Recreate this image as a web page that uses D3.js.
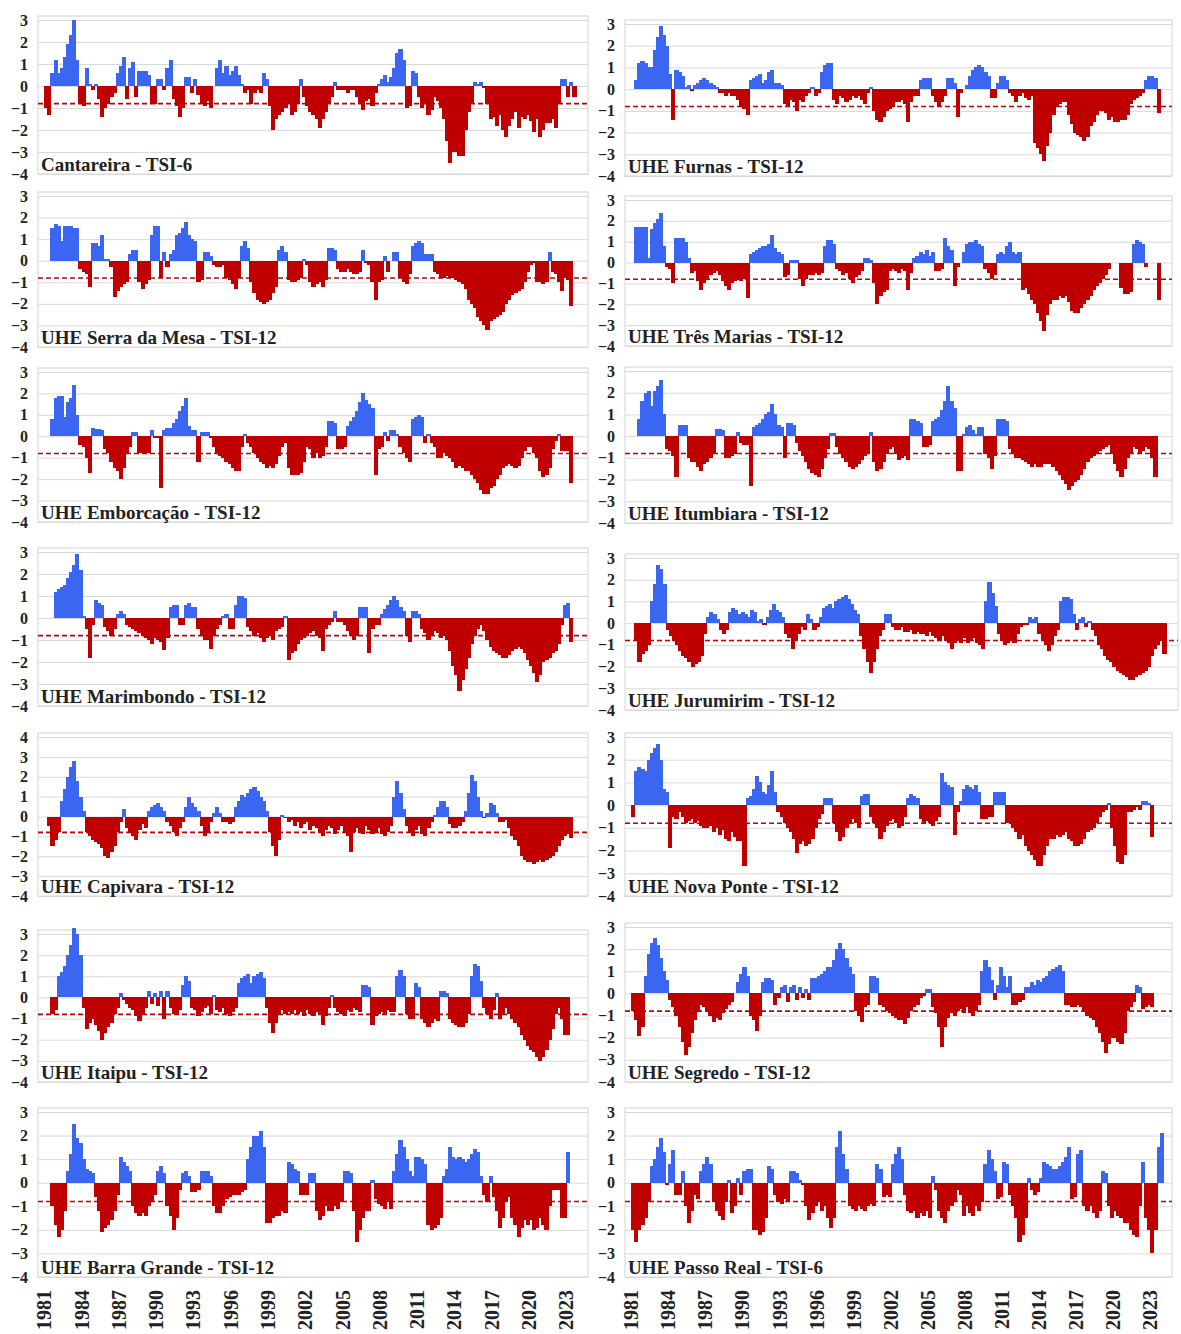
<!DOCTYPE html>
<html>
<head>
<meta charset="utf-8">
<script src="https://cdn.jsdelivr.net/npm/d3@7"></script>
<style>
body { margin: 0; background: #fff; }
</style>
</head>
<body>
<script>
// quarterly TSI values, first value = 1981 Q1 (null = no data)
var cantareira = [
 -1.0,-1.3,0.6,1.2, 0.6,0.8,1.3,1.9, 2.3,3.0,1.2,-0.8, -0.9,0.8,0.1,-0.2,
 0.1,-0.6,-1.4,-1.0, -0.8,-0.5,-0.3,0.6, 0.9,1.3,-0.6,0.8, 1.1,-0.5,0.7,0.7,
 0.7,0.5,-0.8,-0.8, 0.3,0.3,-0.2,0.8, 1.2,-0.6,-0.9,-1.4, -1.0,0.4,0.4,-0.3,
 0.3,-0.4,-0.8,-0.9, -0.7,-1.0,0.0,0.8, 1.2,0.6,0.9,0.5, 0.7,0.9,0.5,0.1,
 -0.3,-0.2,-0.8,-0.3, -0.2,-0.3,0.6,0.3, -0.9,-2.0,-1.5,-1.3, -1.2,-1.0,-0.8,-1.3,
 -1.2,-0.8,0.3,-0.5, -0.9,-1.2,-1.3,-1.5, -1.9,-1.5,-1.2,-0.8, -0.5,0.2,-0.2,-0.2,
 -0.2,-0.3,-0.2,-0.2, -0.5,-0.8,-1.1,-0.7, -0.6,-0.9,-0.3,0.1, 0.3,0.5,0.2,0.4,
 0.8,1.5,1.7,1.2, -1.0,-0.9,0.7,0.6, -0.5,-1.0,-0.8,-1.3, -1.1,-0.5,-0.7,-1.0,
 -1.5,-2.5,-3.5,-3.0, -3.0,-3.2,-3.2,-2.0, -1.2,-0.8,0.2,0.1, 0.2,-0.1,-0.8,-1.5,
 -1.4,-1.8,-1.3,-2.0, -2.3,-1.8,-1.5,-1.2, -1.9,-1.4,-1.5,-1.3, -1.6,-2.1,-1.5,-2.3,
 -2.0,-1.7,-1.7,-1.5, -1.9,-0.8,0.3,0.3, -0.5,0.2,-0.5,null
];
var furnas = [
 null,0.4,1.2,1.3, 1.2,1.0,1.0,1.8, 2.4,2.9,2.5,2.0, 0.7,-1.4,0.9,0.8,
 0.6,0.1,0.2,-0.1, 0.2,0.3,0.4,0.5, 0.4,0.3,0.2,0.1, -0.2,-0.2,-0.3,-0.2,
 -0.3,-0.3,-0.5,-0.8, -0.9,-1.2,0.4,0.5, 0.6,0.7,0.3,0.4, 0.8,0.9,0.3,0.3,
 0.2,-0.7,-0.8,-0.5, -0.6,-1.0,-0.5,-0.6, -0.3,-0.2,0.1,-0.3, -0.2,0.8,1.1,1.2,
 1.2,-0.5,-0.7,-0.3, -0.4,-0.6,-0.5,-0.3, -0.4,-0.3,-0.5,-0.7, -0.2,0.1,-1.0,-1.4,
 -1.5,-1.3,-1.0,-0.9, -0.8,-0.6,-0.6,-0.5, -0.7,-1.5,-0.6,-0.3, -0.3,0.4,0.5,0.5,
 0.5,-0.3,-0.6,-0.8, -0.6,-0.3,0.5,0.5, 0.3,-1.3,-0.2,0.0, 0.2,0.6,0.9,1.0,
 1.1,1.0,0.8,0.6, -0.4,-0.4,0.3,0.6, 0.6,0.4,-0.2,-0.3, -0.6,-0.3,-0.2,-0.4,
 -0.5,-0.3,-2.5,-2.7, -3.0,-3.3,-2.6,-2.0, -1.2,-0.8,-0.7,-0.6, -0.6,-1.2,-1.6,-2.0,
 -2.1,-2.2,-2.4,-2.2, -1.7,-1.5,-1.2,-1.0, -1.0,-1.1,-1.4,-1.3, -1.5,-1.5,-1.4,-1.4,
 -1.2,-0.7,-0.5,-0.4, -0.3,-0.2,0.4,0.6, 0.6,0.5,-1.1,null
];
var serraDaMesa = [
 null,null,1.5,1.7, 1.6,0.9,1.6,1.6, 1.6,1.5,1.5,-0.4, -0.5,-0.6,-1.2,0.8,
 0.8,0.7,1.2,0.1, 0.1,-0.3,-1.7,-1.4, -1.2,-1.1,-1.0,0.3, 0.5,0.5,-1.0,-1.3,
 -1.1,-0.9,1.2,1.6, 1.6,-0.8,0.4,-0.3, 0.3,0.5,1.2,1.3, 1.5,1.8,1.2,1.0,
 0.9,-1.0,-0.9,0.4, 0.4,0.2,-0.2,-0.3, -0.3,-0.2,-0.8,-0.9, -1.1,-1.3,-0.8,0.7,
 0.9,0.6,-1.0,-1.5, -1.8,-1.9,-2.0,-1.9, -1.8,-1.5,-1.2,0.5, 0.7,0.4,-0.9,-1.0,
 -1.0,-0.9,-0.8,0.1, -0.2,-1.0,-1.2,-1.1, -1.0,-1.2,-0.9,0.6, 0.6,0.5,-0.4,-0.5,
 -0.5,-0.4,-0.5,-0.6, -0.6,-0.5,0.5,-0.1, -0.2,-1.0,-1.8,-1.0, -0.9,0.2,-0.5,0.0,
 0.4,0.4,-0.8,-1.0, -1.1,-0.6,0.7,0.8, 0.9,0.8,0.3,0.3, 0.3,-0.5,-0.6,-0.8,
 -0.8,-0.7,-0.8,-0.8, -0.9,-1.0,-1.1,-1.3, -1.8,-2.0,-2.2,-2.6, -2.8,-3.0,-3.2,-2.8,
 -2.7,-2.6,-2.5,-2.4, -2.0,-1.8,-1.6,-1.5, -1.4,-1.3,-1.0,-0.5, -0.2,-0.1,-1.0,-1.0,
 -1.1,-1.0,0.4,-0.5, -0.6,-1.0,-1.4,-0.8, -0.9,-2.1,null,null
];
var tresMarias = [
 null,1.7,1.7,1.7, 1.7,0.2,1.6,1.9, 2.1,2.4,0.8,-0.2, -0.3,-1.0,1.2,1.2,
 1.2,1.0,0.2,-0.5, -0.4,-0.9,-1.3,-1.0, -0.8,-0.6,-0.5,-0.4, -0.6,-0.9,-1.1,-1.3,
 -1.0,-0.9,-0.8,-0.9, -0.8,-1.7,0.4,0.5, 0.6,0.7,0.8,0.8, 0.9,1.3,0.7,0.5,
 0.4,-0.7,-0.6,0.1, 0.1,0.1,-0.8,-1.1, -0.8,-0.6,-0.6,-0.5, -0.6,-0.5,0.8,1.1,
 1.1,0.9,-0.3,-0.4, -0.6,-0.5,-0.8,-1.0, -0.7,-0.6,-0.4,0.2, 0.2,0.1,-1.0,-2.0,
 -1.6,-1.4,-1.3,-0.4, -0.3,-0.4,-0.5,-0.3, -0.4,-1.3,-0.5,0.2, 0.3,0.5,0.4,0.6,
 0.3,0.5,-0.4,-0.4, -0.3,1.2,0.8,0.6, -1.1,-0.2,0.0,0.5, 0.9,1.0,1.0,1.1,
 0.9,0.8,-0.3,-0.5, -0.8,-0.6,0.4,0.5, 0.4,0.8,1.0,0.5, 0.4,0.5,-1.3,-1.2,
 -1.5,-1.8,-2.0,-2.4, -2.8,-3.3,-2.5,-2.0, -1.8,-1.8,-1.6,-1.7, -1.6,-1.9,-2.3,-2.4,
 -2.4,-2.2,-2.0,-1.8, -1.6,-1.3,-1.1,-1.0, -0.8,-0.6,-0.3,0.0, 0.0,0.0,-1.2,-1.5,
 -1.5,-1.4,0.9,1.1, 1.0,0.9,-0.2,0.0, 0.0,0.0,-1.8,null
];
var emborcacao = [
 null,null,0.8,1.8, 1.9,1.9,0.9,1.6, 1.8,2.4,1.0,-0.4, -0.5,-1.0,-1.7,0.4,
 0.35,0.35,0.3,-0.6, -0.8,-1.2,-1.5,-1.6, -2.0,-1.5,-0.8,-0.5, 0.2,0.2,-0.8,-0.8,
 -0.8,-0.8,0.3,-0.1, -0.1,-2.4,0.3,0.4, 0.4,0.6,0.8,1.2, 1.4,1.8,0.5,0.3,
 0.3,-1.2,0.2,0.2, 0.2,-0.1,-0.5,-0.8, -0.9,-1.0,-1.2,-1.3, -1.5,-1.6,-1.6,-0.5,
 0.1,-0.3,-0.5,-0.8, -1.0,-1.2,-1.3,-1.5, -1.4,-1.5,-1.3,-0.9, -0.5,-0.3,-1.5,-1.8,
 -1.8,-1.8,-1.7,-1.2, -0.5,-0.6,-1.0,-0.8, -1.0,-0.9,-0.5,0.7, 0.7,0.6,-0.6,-0.6,
 -0.5,0.5,0.7,0.9, 1.2,1.6,2.0,1.7, 1.5,1.3,-1.8,-0.6, -0.5,0.2,-0.2,0.3,
 0.3,0.1,-0.5,-0.8, -1.0,-1.2,0.8,0.9, 1.0,0.9,-0.3,0.1, -0.3,-0.5,-1.0,-1.0,
 -0.8,-0.9,-1.0,-1.2, -1.5,-1.4,-1.5,-1.6, -1.6,-1.8,-2.0,-2.2, -2.5,-2.7,-2.7,-2.4,
 -2.3,-2.0,-1.8,-1.5, -1.4,-1.3,-1.4,-1.5, -1.4,-1.0,-0.7,-0.5, -0.5,-0.8,-1.0,-1.6,
 -1.9,-1.8,-1.5,-0.6, -0.2,0.1,-0.7,-0.7, -0.7,-2.2,null,null
];
var itumbiara = [
 null,null,0.8,1.6, 2.0,2.1,1.4,2.1, 2.3,2.6,1.0,-0.6, -0.7,-0.9,-1.9,0.5,
 0.5,0.5,-1.0,-1.2, -1.2,-1.4,-1.6,-1.3, -1.2,-1.0,-0.8,0.35, 0.35,0.3,-1.0,-1.0,
 -0.9,-0.8,0.2,-0.3, -0.4,-0.4,-2.3,0.4, 0.5,0.6,0.8,1.0, 1.1,1.5,1.0,0.5,
 0.4,-1.0,0.6,0.6, 0.5,-0.3,-0.7,-0.9, -1.2,-1.5,-1.7,-1.8, -1.9,-1.5,-1.0,-0.6,
 0.15,0.15,-0.5,-0.8, -1.0,-1.2,-1.4,-1.5, -1.4,-1.3,-1.1,-0.9, -0.8,0.2,-1.2,-1.6,
 -1.5,-1.2,-0.8,-0.6, -0.5,-0.8,-1.1,-1.0, -0.9,-1.1,0.8,0.8, 0.7,0.6,-0.5,-0.5,
 -0.4,0.7,0.8,0.9, 1.2,1.6,2.3,1.6, 1.3,-1.6,-1.6,0.1, 0.4,0.5,0.3,0.1,
 0.4,0.4,-0.8,-1.0, -1.5,-0.9,0.8,0.8, 0.8,0.7,-0.6,-0.8, -1.0,-1.0,-1.1,-1.2,
 -1.3,-1.4,-1.3,-1.4, -1.4,-1.3,-1.3,-1.3, -1.4,-1.6,-1.8,-2.0, -2.2,-2.5,-2.3,-2.1,
 -2.0,-1.8,-1.5,-1.2, -1.0,-0.9,-0.8,-0.7, -0.6,-0.5,-0.4,-0.8, -1.3,-1.6,-1.9,-1.5,
 -1.0,-0.8,-0.5,-0.6, -0.8,-0.7,-0.5,-0.6, -1.0,-1.9,null,null
];
var marimbondo = [
 null,null,null,1.2, 1.3,1.4,1.5,1.8, 2.1,2.4,2.9,2.2, 0.1,-0.5,-1.8,-0.3,
 0.8,0.7,0.6,-0.4, -0.6,-0.8,-0.5,0.2, 0.3,0.2,-0.3,-0.4, -0.5,-0.6,-0.7,-0.8,
 -0.9,-1.0,-1.2,-0.9, -1.0,-1.1,-1.45,-0.9, 0.5,0.6,0.6,-0.3, -0.3,0.6,0.7,0.5,
 0.5,-0.5,-0.8,-1.0, -1.0,-1.4,-0.8,-0.5, -0.3,0.1,0.2,-0.5, -0.5,0.6,1.0,1.0,
 0.9,-0.4,-0.6,-0.8, -0.7,-0.9,-1.1,-0.9, -0.8,-1.0,-0.6,-0.5, -0.4,0.1,-1.9,-1.6,
 -1.5,-1.2,-1.0,-0.9, -0.8,-0.7,-0.6,-0.8, -0.9,-1.5,-0.5,-0.3, -0.2,0.3,-0.2,-0.2,
 -0.3,-0.6,-0.8,-1.0, -0.8,0.5,0.5,0.5, -1.6,-0.5,-0.3,-0.3, 0.2,0.4,0.6,0.8,
 1.0,0.8,0.5,0.3, -0.8,-1.1,0.3,0.3, 0.2,-0.5,-0.7,-1.0, -0.8,-0.6,-0.7,-0.9,
 -0.8,-1.0,-1.5,-2.2, -2.6,-3.3,-2.8,-2.3, -1.8,-1.2,-0.8,-0.5, -0.3,-0.6,-1.0,-1.3,
 -1.5,-1.6,-1.7,-1.8, -1.8,-1.7,-1.5,-1.4, -1.3,-1.4,-1.6,-1.9, -2.2,-2.5,-2.9,-2.6,
 -2.0,-1.9,-1.8,-1.6, -1.5,-1.2,-0.3,0.6, 0.7,-1.1,null,null
];
var jurumirim = [
 null,-0.8,-1.8,-1.4, -1.3,-1.0,1.0,1.8, 2.7,2.5,1.8,-0.3, -0.6,-0.8,-1.0,-1.3,
 -1.5,-1.6,-1.8,-2.0, -1.9,-1.8,-1.5,-0.5, 0.3,0.5,0.4,0.2, -0.3,-0.5,-0.3,0.5,
 0.7,0.6,0.4,0.5, 0.4,0.3,0.6,0.5, 0.1,0.2,-0.1,0.3, 0.6,0.9,0.6,0.5,
 0.3,-0.5,-0.7,-1.2, -0.8,-0.5,-0.2,-0.3, 0.4,0.2,-0.3,-0.2, 0.3,0.7,0.8,0.9,
 0.7,1.0,1.1,1.2, 1.3,1.1,0.9,0.6, 0.4,-0.6,-1.2,-1.8, -2.3,-1.8,-1.2,-0.6,
 -0.3,0.4,0.4,-0.2, -0.3,-0.3,-0.2,-0.4, -0.4,-0.3,-0.5,-0.4, -0.5,-0.5,-0.6,-0.4,
 -0.6,-0.7,-0.8,-0.6, -0.8,-0.9,-1.2,-0.9, -0.8,-0.9,-0.7,-0.9, -0.8,-0.7,-0.9,-1.0,
 -1.2,1.0,1.9,1.4, 0.8,-0.5,-0.8,-1.0, -0.9,-0.8,-0.9,-0.5, -0.2,-0.1,-0.1,0.3,
 0.2,0.3,-0.5,-0.8, -1.0,-1.3,-1.0,-0.6, -0.3,1.0,1.2,1.2, 1.1,0.4,-0.3,0.2,
 0.3,-0.2,0.1,-0.3, -0.6,-1.0,-1.2,-1.5, -1.7,-1.8,-2.0,-2.2, -2.3,-2.4,-2.5,-2.6,
 -2.6,-2.5,-2.4,-2.3, -2.2,-2.0,-1.5,-1.2, -1.0,-0.8,-1.4,null
];
var capivara = [
 null,-0.5,-1.5,-1.2, -0.8,0.8,1.4,2.0, 2.5,2.8,1.8,1.0, 0.3,-0.8,-1.0,-1.2,
 -1.3,-1.4,-1.6,-2.0, -2.1,-1.8,-1.5,-0.8, -0.3,0.4,-0.6,-0.8, -1.0,-1.2,-0.7,-0.4,
 -0.6,0.3,0.5,0.6, 0.7,0.5,0.3,-0.3, -0.5,-0.8,-1.0,-0.6, -0.3,0.5,1.0,0.7,
 0.5,0.3,-0.5,-1.0, -0.8,-0.3,0.2,0.5, 0.2,-0.3,-0.3,-0.4, -0.3,0.5,0.8,1.1,
 1.0,1.2,1.4,1.5, 1.3,1.0,0.8,0.3, -0.8,-1.5,-2.0,-1.2, 0.1,-0.1,-0.3,-0.2,
 -0.5,-0.3,-0.6,-0.4, -0.3,-0.7,-0.5,-0.6, -0.8,-1.0,-0.7,-0.5, -0.6,-0.9,-0.7,-0.5,
 -0.8,-1.0,-1.8,-0.8, -0.6,-0.8,-0.9,-0.5, -0.7,-0.9,-0.8,-0.6, -0.9,-1.0,-0.8,-0.5,
 1.0,1.8,1.2,0.4, -0.5,-0.8,-1.0,-0.7, -0.5,-0.9,-1.0,-0.6, -0.3,0.1,0.5,0.8,
 0.8,0.5,-0.4,-0.6, -0.6,-0.5,-0.3,0.3, 1.2,2.1,1.8,1.0, 0.3,-0.1,0.2,0.7,
 0.6,0.2,-0.3,-0.3, -0.2,-0.6,-1.0,-1.2, -1.5,-2.0,-2.2,-2.3, -2.3,-2.4,-2.3,-2.2,
 -2.3,-2.2,-2.1,-2.0, -1.8,-1.5,-1.2,-1.0, -0.9,-1.1,null,null
];
var novaPonte = [
 -0.5,1.5,1.7,1.6, 1.5,2.0,2.3,2.5, 2.7,2.0,0.7,0.6, -1.9,-0.5,-0.6,-0.3,
 -0.5,-0.8,-0.7,-0.6, -0.8,-0.7,-0.9,-1.0, -1.0,-0.9,-1.2,-1.0, -1.3,-1.1,-1.5,-1.6,
 -1.2,-1.4,-1.6,-1.6, -2.7,0.3,0.4,0.7, 1.3,1.0,0.6,0.5, 0.9,1.5,0.6,-0.3,
 -0.5,-0.8,-1.0,-1.2, -1.5,-2.1,-1.7,-1.6, -1.8,-1.7,-1.5,-1.0, -0.6,-0.4,0.3,0.3,
 0.3,-0.8,-1.2,-1.6, -1.4,-1.0,-0.8,-0.6, -0.8,-1.0,0.4,0.5, 0.5,-0.5,-0.8,-1.0,
 -1.5,-1.2,-0.9,-0.7, -0.6,-0.8,-1.0,-0.9, -0.5,0.3,0.5,0.4, 0.3,-0.6,-0.8,-0.7,
 -0.8,-0.9,-0.7,-0.5, 1.4,1.0,0.9,0.8, -1.3,-0.3,0.2,0.7, 0.9,0.8,0.7,0.9,
 0.6,-0.6,-0.6,-0.5, -0.5,0.6,0.6,0.6, 0.6,-0.8,-0.8,-1.0, -1.2,-1.5,-1.3,-1.8,
 -2.0,-2.2,-2.4,-2.7, -2.7,-2.2,-1.8,-1.5, -1.5,-1.3,-1.4,-1.3, -1.2,-1.5,-1.6,-1.8,
 -1.8,-1.7,-1.5,-1.2, -1.1,-1.0,-0.8,-0.5, -0.3,-0.2,0.1,-1.0, -1.8,-2.5,-2.6,-2.2,
 -0.3,-0.3,-0.2,-0.1, -0.2,0.2,0.2,0.1, -1.4,null,null,null
];
var itaipu = [
 null,null,-0.8,-0.6, 1.0,1.2,1.5,2.0, 2.5,3.3,3.0,2.0, -0.5,-1.5,-1.2,-1.0,
 -1.3,-1.6,-2.0,-1.7, -1.4,-1.2,-0.8,-0.5, 0.2,-0.1,-0.3,-0.5, -0.6,-0.9,-1.1,-0.8,
 -0.5,0.3,-0.3,0.2, -0.4,0.3,-1.0,0.3, -0.5,-0.8,-0.8,-0.6, 0.6,1.0,0.8,-0.5,
 -0.6,-0.9,-0.7,-0.5, -0.4,-0.8,0.1,-0.6, -0.7,-0.5,-0.8,-0.9, -0.7,-0.5,0.7,0.9,
 1.0,1.1,0.7,1.0, 1.1,1.2,0.9,-0.5, -1.2,-1.7,-1.2,-0.8, -0.6,-0.8,-0.7,-0.8,
 -0.6,-0.8,-0.7,-0.9, -0.6,-0.8,-0.9,-0.7, -0.8,-1.3,-0.9,-0.5, 0.1,-0.5,-0.7,-0.8,
 -0.9,-0.6,-0.7,-0.5, -0.6,-0.7,0.6,0.6, 0.5,-1.3,-0.9,-0.8, -0.7,-0.8,-0.6,-0.7,
 -0.7,1.0,1.3,1.0, -0.8,-1.0,-1.0,0.7, 0.5,-1.0,-1.2,-1.4, -1.2,-1.0,-1.1,0.3,
 0.3,0.2,-1.0,-1.2, -1.3,-1.4,-1.4,-1.2, -0.8,1.0,1.6,1.5, 0.8,-0.5,-0.8,-1.0,
 -0.6,0.2,-1.0,-0.8, -0.5,-0.8,-1.0,-1.2, -1.4,-1.8,-2.0,-2.3, -2.5,-2.6,-2.8,-3.0,
 -2.8,-2.5,-2.0,-1.5, -0.8,-0.5,-1.0,-1.8, -1.8,null,null,null
];
var segredo = [
 -0.8,-1.2,-1.9,-1.5, 0.8,1.8,2.3,2.5, 2.2,1.6,1.0,0.6, -0.3,-0.6,-1.0,-1.5,
 -2.2,-2.8,-2.4,-1.8, -1.2,-0.8,-0.5,-0.6, -0.8,-1.0,-1.3,-1.1, -1.2,-0.9,-0.7,-0.5,
 -0.4,0.0,0.5,0.9, 1.2,0.8,-1.0,-1.2, -1.7,-1.0,0.5,0.7, 0.7,0.6,-0.5,-0.2,
 0.3,0.4,-0.4,0.3, 0.4,-0.3,0.3,-0.2, 0.2,-0.3,0.7,0.7, 0.8,0.9,1.0,1.2,
 1.2,1.5,2.0,2.3, 2.0,1.6,1.2,0.9, -0.8,-1.0,-1.3,-0.6, -0.5,0.8,0.8,0.7,
 -0.5,-0.6,-0.8,-0.9, -1.0,-1.1,-1.2,-1.2, -1.4,-1.1,-0.8,-0.6, -0.5,-0.2,-0.1,0.2,
 0.2,-0.6,-0.9,-1.5, -2.4,-1.5,-1.1,-0.9, -1.0,-0.8,-0.7,-0.9, -0.6,-0.9,-1.0,-0.8,
 -0.5,1.0,1.5,1.2, 0.6,-0.3,0.4,1.2, 0.8,0.3,0.8,-0.5, -0.5,-0.4,-0.3,0.3,
 0.3,0.5,0.4,0.6, 0.5,0.7,0.8,1.0, 1.1,1.2,1.3,1.0, -0.5,-0.5,-0.6,-0.6,
 -0.5,-0.6,-0.8,-1.0, -1.1,-1.2,-1.5,-1.8, -2.2,-2.7,-2.3,-2.0, -2.0,-2.2,-2.3,-1.8,
 -0.8,-0.6,-0.4,0.4, 0.3,-0.7,-0.6,-0.5, -0.6,null,null,null
];
var barraGrande = [
 null,null,-1.0,-1.8, -2.3,-2.0,-1.2,0.5, 1.2,2.5,1.9,1.7, 1.0,0.6,0.5,0.4,
 -0.6,-1.2,-2.1,-1.9, -1.8,-1.6,-1.2,-0.5, 1.1,0.9,0.7,0.5, -1.0,-1.3,-1.4,-1.3,
 -1.4,-1.0,-0.8,-0.5, 0.5,0.7,0.4,-1.0, -1.4,-2.0,-1.5,-0.3, 0.4,0.5,0.3,-0.4,
 -0.4,-0.3,0.5,0.5, 0.5,0.3,-1.0,-1.3, -1.3,-1.0,-0.7,-0.6, -0.5,-0.5,-0.5,-0.4,
 -0.3,1.0,1.5,2.0, 2.0,2.2,1.5,-1.7, -1.7,-1.5,-1.4,-1.4, -1.2,-1.3,0.9,0.8,
 0.6,0.5,-0.5,-0.5, -0.5,0.4,0.4,-1.2, -1.6,-1.4,-1.0,-1.2, -1.2,-1.0,-1.1,-0.8,
 0.5,0.5,0.4,-1.2, -2.5,-2.0,-1.5,-1.2, -1.2,0.1,-0.7,-0.9, -1.0,-1.1,-0.8,-1.1,
 0.5,1.2,1.8,1.5, 1.0,0.5,0.3,1.1, 1.1,1.0,0.8,-1.8, -2.0,-1.9,-1.8,-1.5,
 0.3,0.6,1.5,1.1, 1.0,1.1,1.0,0.9, 1.0,1.2,1.45,1.3, 0.3,-0.5,-0.8,0.3,
 -0.6,-1.2,-1.9,-1.5, -0.8,-0.6,-1.5,-1.8, -2.3,-1.9,-1.6,-1.8, -1.6,-2.0,-1.9,-1.5,
 -1.8,-2.0,-1.0,-0.3, -0.3,-0.3,-1.5,-1.5, 1.3,null,null,null
];
var passoReal = [
 -2.0,-2.5,-2.0,-1.8, -1.5,-0.8,0.7,1.0, 1.5,1.9,1.3,-0.1, 0.8,1.4,-0.5,-0.5,
 0.5,-1.0,-1.7,-1.2, -0.5,-0.7,0.5,0.8, 1.1,0.8,-0.8,-1.2, -1.4,-1.6,-0.8,0.1,
 -1.3,-1.0,0.2,-0.5, 0.5,0.6,0.6,-2.0, -2.0,-2.2,-2.1,-1.5, 0.7,0.6,-0.5,-0.8,
 -0.9,-0.7,-0.8,0.5, 0.5,0.4,0.1,-0.1, -1.0,-1.6,-1.3,-1.0, -0.8,-1.2,-1.0,-1.5,
 -1.9,-1.5,1.5,2.2, 1.2,0.6,-1.0,-1.1, -1.2,-1.0,-1.1,-1.2, -1.0,-0.9,-1.0,0.8,
 0.6,-0.6,-0.5,-0.6, 0.8,1.2,1.5,1.0, -0.5,-1.2,-1.3,-1.2, -1.5,-1.3,-1.4,-1.2,
 -1.5,0.3,-0.3,-1.2, -1.5,-1.7,-1.2,-1.0, -0.8,-0.3,-0.5,-1.4, -1.0,-1.3,-1.4,-1.0,
 -1.2,-0.8,0.8,1.4, 1.0,0.5,-0.7,-0.6, 0.9,0.8,-0.5,-1.0, -1.5,-2.5,-2.2,-1.5,
 0.2,-0.3,-0.5,-0.4, 0.2,0.9,0.8,0.7, 0.6,0.6,0.7,0.9, 1.1,1.5,-0.7,-0.6,
 1.2,1.4,-1.0,-1.2, -1.0,-1.3,-1.5,-1.2, 0.5,0.4,-1.0,-1.5, -1.2,-1.4,-1.5,-1.7,
 -1.7,-2.0,-2.2,-2.3, -1.0,0.9,-1.5,-2.0, -3.0,-2.0,1.5,2.1
];

var titles = [
  "Cantareira - TSI-6", "UHE Furnas - TSI-12",
  "UHE Serra da Mesa - TSI-12", "UHE Três Marias - TSI-12",
  "UHE Emborcação - TSI-12", "UHE Itumbiara - TSI-12",
  "UHE Marimbondo - TSI-12", "UHE Jurumirim - TSI-12",
  "UHE Capivara - TSI-12", "UHE Nova Ponte - TSI-12",
  "UHE Itaipu - TSI-12", "UHE Segredo - TSI-12",
  "UHE Barra Grande - TSI-12", "UHE Passo Real - TSI-6"
];
var series = [cantareira, furnas, serraDaMesa, tresMarias, emborcacao, itumbiara,
  marimbondo, jurumirim, capivara, novaPonte, itaipu, segredo, barraGrande, passoReal];
var topValues = [3,3, 3,3, 3,3, 3,3, 4,3, 3,3, 3,3];
var yearTicks = d3.range(1981, 2024, 3);
var threshold = -0.8;
var firstYear = 1981;

// panel frames: [top value y, -4 y] per panel
var frames = [
  [20,174],[24,176],
  [196,347],[200,346],
  [372,522],[371,523],
  [552,706],[558,710],
  [737,896],[737,896],
  [934,1082],[927,1082],
  [1112,1277],[1112,1277]
];
var cols = [[38,588],[625,1172]];

var blue = "#3a66f2", red = "#c00000";
var fontFam = "'Liberation Serif', 'DejaVu Serif', serif";

var svg = d3.select("body").append("svg")
  .attr("width", 1181)
  .attr("height", 1334)
  .style("font-family", fontFam);

series.forEach(function(vals, k){
  var col = k % 2;
  var x0 = cols[col][0], x1 = cols[col][1];
  if (k === 7) x1 = 1178;
  var top = topValues[k];
  var yTopPx = frames[k][0], yBotPx = frames[k][1];

  var x = d3.scaleLinear().domain([1980.5, 2024.75]).range([x0, x1]);
  var y = d3.scaleLinear().domain([-4, top]).range([yBotPx, yTopPx]);

  var g = svg.append("g").attr("class", "panel");

  //frame
  g.append("rect")
    .attr("x", x0).attr("y", yTopPx - 4)
    .attr("width", x1 - x0).attr("height", yBotPx - yTopPx + 4)
    .attr("fill", "none").attr("stroke", "#d4d4d4").attr("stroke-width", 1);

  //gridlines and value labels
  var ax = d3.axisLeft(y).tickValues(d3.range(-4, top + 1)).tickSize(-(x1 - x0)).tickPadding(10)
    .tickFormat(d3.format("d"));
  var ag = g.append("g").attr("transform", "translate(" + x0 + ",0)").call(ax);
  ag.select(".domain").remove();
  ag.selectAll("line").attr("stroke", "#d9d9d9").attr("stroke-width", 1);
  ag.selectAll("text")
    .attr("font-size", 16).attr("font-weight", "bold").attr("fill", "#222")
    .style("font-family", fontFam);

  //bars
  var pts = [];
  vals.forEach(function(v, i){ if (v !== null) pts.push({t: firstYear + i / 4, v: v}); });
  g.selectAll("rect.bar").data(pts).enter().append("rect")
    .attr("class", "bar")
    .attr("x", function(d){ return x(d.t); })
    .attr("width", function(d){ return x(d.t + 0.25) - x(d.t) + 1; })
    .attr("y", function(d){ return y(Math.max(0, d.v)); })
    .attr("height", function(d){ return Math.abs(y(d.v) - y(0)); })
    .attr("fill", function(d){ return d.v >= 0 ? blue : red; })
    .attr("shape-rendering", "crispEdges");

  //threshold line
  g.append("line")
    .attr("x1", x0).attr("x2", x1)
    .attr("y1", y(threshold)).attr("y2", y(threshold))
    .attr("stroke", red).attr("stroke-width", 1.6).attr("stroke-dasharray", "5,3");

  //panel title
  g.append("text")
    .attr("x", x0 + 3).attr("y", yBotPx - 3)
    .attr("font-size", 19).attr("font-weight", "bold").attr("fill", "#222")
    .text(titles[k]);

  //year labels under the last row
  if (k >= 12) {
    g.selectAll("text.yr").data(yearTicks).enter().append("text")
      .attr("class", "yr")
      .attr("transform", function(d){ return "translate(" + (x(d) + 7) + ",1290) rotate(-90)"; })
      .attr("text-anchor", "end")
      .attr("font-size", 20).attr("font-weight", "bold").attr("fill", "#222")
      .text(function(d){ return d; });
  }
});
</script>
</body>
</html>
